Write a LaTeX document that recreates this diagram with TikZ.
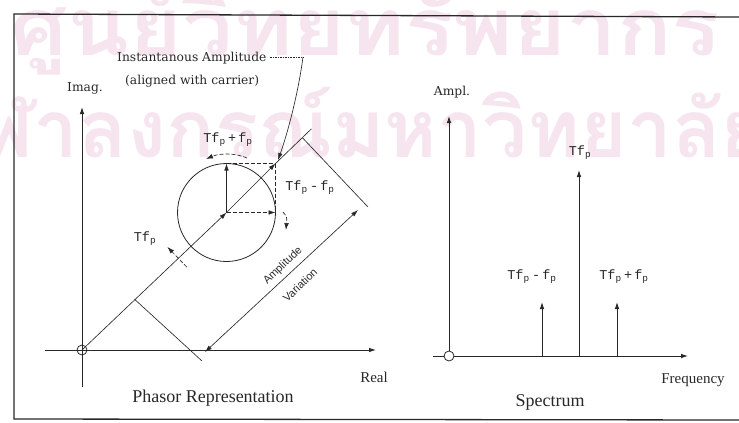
\documentclass[tikz,border=0pt]{standalone}
\usepackage{fontspec}
\setmainfont{Liberation Serif}
\newfontfamily\dvs{DejaVu Serif}
\newfontfamily\lmono{Liberation Mono}
\newfontfamily\lsans{Liberation Sans}
\newfontfamily\thaifont[Script=Thai]{Loma}
\usetikzlibrary{arrows.meta}
\definecolor{ink}{RGB}{40,40,40}
\definecolor{wmk}{RGB}{246,228,238}
\newcommand\mytfp{Tf\textsubscript{p}}
\newcommand\myffp{f\textsubscript{p}}
\begin{document}
\begin{tikzpicture}[x=1pt,y=-1pt,
  >={Latex[length=7pt,width=4.6pt]},
  wmark/.style={text=wmk, inner sep=0pt, font=\thaifont\bfseries\fontsize{80}{80}\selectfont},
  frame/.style={draw=ink, line width=1.3pt},
  ax/.style={draw=ink, line width=0.9pt},
  thinl/.style={draw=ink, line width=0.65pt},
  dsh/.style={draw=ink, line width=0.65pt, dash pattern=on 4pt off 2pt},
  lbl/.style={text=ink, inner sep=0pt},
  dvl/.style={lbl, font=\dvs\fontsize{12.3}{14}\selectfont},
  tml/.style={lbl, font=\fontsize{15}{17}\selectfont},
  ttl/.style={lbl, font=\fontsize{18}{20}\selectfont},
  tfl/.style={lbl, font=\lmono\fontsize{13.5}{15}\selectfont},
  avl/.style={lbl, font=\lsans\fontsize{11}{13}\selectfont, rotate=43.8},
  orig/.style={draw=ink, circle, minimum size=10pt, inner sep=0pt, line width=0.8pt}
]
\useasboundingbox (0,0) rectangle (739,423);
% watermark
\begin{scope}
\clip (0,0) rectangle (739,423);
\node[wmark, anchor=base west, xscale=1.13] (wm1) at (10,55) {ศูนย์วิทยทรัพยากร};
\node[wmark, anchor=base east] (wm2) at (768,157) {จุฬาลงกรณ์มหาวิทยาลัย};
\end{scope}
% frame
\coordinate (f1) at (14,14);
\coordinate (f2) at (739,17);
\coordinate (f3) at (14,419);
\coordinate (f4) at (739,420);
\draw[frame] (f2) -- (f1) -- (f3) -- (f4);

% ---------- phasor ----------
\coordinate (O) at (82,350);
\coordinate (ImTop) at (82,107);
\coordinate (ImBot) at (82,387);
\coordinate (ReL) at (45,350);
\coordinate (ReR) at (376,350);
\draw[ax,->] (ImBot) -- (ImTop);
\draw[ax,->] (ReL) -- (ReR);
\node[orig] (Oc) at (O) {};

\coordinate (M) at (226.5,212.5);
\coordinate (C) at (275.5,163.5);
\coordinate (E) at (311.5,128.8);
\coordinate (T0) at (134.6,299.3);
\coordinate (T1) at (302.3,137.6);
\coordinate (Mt) at (226.5,163.5);
\coordinate (Mr) at (275.5,212.5);
\node[draw=ink, circle, minimum size=98pt, inner sep=0pt, outer sep=0pt, line width=0.8pt] (circ) at (M) {};
\draw[thinl,->] (O) -- (M);
\draw[thinl,->] (M) -- (C);
\draw[thinl] (C) -- (E);
\draw[thinl,->] (M) -- (Mt);
\draw[dsh,->] (M) -- (Mr);
\draw[dsh] (Mt) -- (C);
\draw[dsh] (C) -- (Mr);
% rotation arrows
\coordinate (a1) at (247,158);
\coordinate (a2) at (206,159);
\draw[dsh,->] (a1) .. controls (236,153) and (220,153) .. (a2);
\coordinate (b1) at (283,212);
\coordinate (b2) at (286,230);
\draw[dsh,->] (b1) .. controls (287,217) .. (b2);
% tick with arrow
\coordinate (Pa) at (167.4,246.9);
\coordinate (Pb) at (186.8,267.1);
\draw[dsh,->] (Pb) -- (Pa);
% amplitude variation
\coordinate (T0e) at (202,361);
\coordinate (T1e) at (368,207);
\draw[thinl] (T0) -- (T0e);
\draw[thinl] (T1) -- (T1e);
\coordinate (D0) at (205,352);
\coordinate (D1) at (358,210);
\draw[thinl,<->] (D0) -- (D1);
\node[avl] (amp) at (283,266) {Amplitude};
\node[avl] (var) at (300,285) {Variation};

% instantaneous amplitude pointer
\node[dvl, anchor=base west] (IA) at (117,61) {Instantanous Amplitude};
\node[dvl, anchor=base west] (IA2) at (125,84) {(aligned with carrier)};
\coordinate (K) at (303,57);
\coordinate (Cp) at (278,160);
\draw[ink, line width=0.65pt, densely dotted] ([xshift=3pt,yshift=4pt]IA.base east) -- (K);
\draw[thinl,->] (K) .. controls (298,95) and (287,135) .. (Cp);

\node[dvl] (Im) at (85,88) {Imag.};
\node[tml] (Re) at (374,377) {Real};
\node[ttl] (PR) at (213,398) {Phasor Representation};
\node[tfl] (tp1) at (228,140) {\mytfp\,+\,\myffp};
\node[tfl] (tm1) at (310,188) {\mytfp\,-\,\myffp};
\node[tfl] (t1) at (145,239) {\mytfp};

% ---------- spectrum ----------
\coordinate (S0) at (449,356);
\coordinate (SyTop) at (449,116);
\coordinate (SxL) at (433,356);
\coordinate (SxR) at (688,356);
\draw[ax,->] (SxL) -- (SxR);
\node[orig, fill=white] (Sc) at (S0) {};
\draw[ax,->] (Sc.north) -- (SyTop);
\coordinate (L0b) at (579,356);
\coordinate (L0t) at (579,170);
\coordinate (L1b) at (542,356);
\coordinate (L1t) at (542,302);
\coordinate (L2b) at (617,356);
\coordinate (L2t) at (617,302);
\draw[ax,->] (L0b) -- (L0t);
\draw[ax,->] (L1b) -- (L1t);
\draw[ax,->] (L2b) -- (L2t);
\node[dvl] (Am) at (452,92) {Ampl.};
\node[tfl] (t2) at (580,153) {\mytfp};
\node[tfl] (tm2) at (532,277) {\mytfp\,-\,\myffp};
\node[tfl] (tp2) at (624,277) {\mytfp\,+\,\myffp};
\node[tml] (Fr) at (693,380) {Frequency};
\node[ttl] (Sp) at (550,402) {Spectrum};
\end{tikzpicture}
\end{document}
